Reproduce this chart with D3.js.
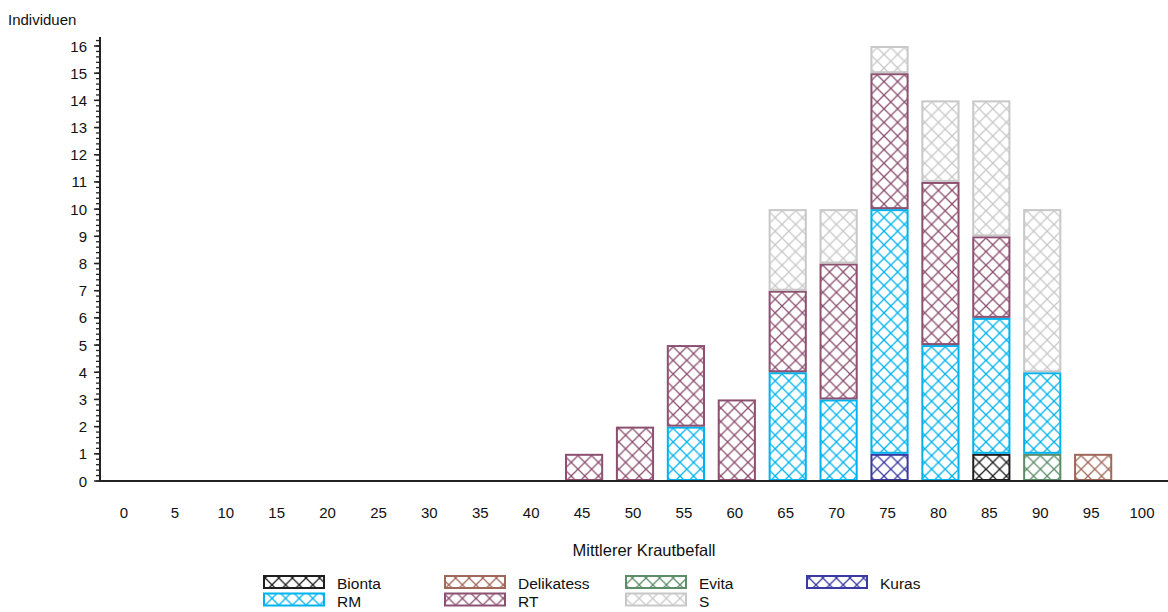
<!DOCTYPE html>
<html><head><meta charset="utf-8">
<script src="https://cdn.jsdelivr.net/npm/d3@7"></script>
<style>body{margin:0;background:#fff}svg{display:block;font-family:"Liberation Sans",Arial,sans-serif}</style>
</head><body>
<svg id="c" width="1168" height="612"></svg>
<script>
const categories = [0,5,10,15,20,25,30,35,40,45,50,55,60,65,70,75,80,85,90,95,100];
const seriesNames = ["Bionta","Delikatess","Evita","Kuras","RM","RT","S"];
const seriesColors = ["#1e1e1e","#a0685a","#5c8c68","#3a3aa2","#00b2ee","#8c5070","#c8c8c8"];
const Bionta     = [0,0,0,0,0,0,0,0,0,0,0,0,0,0,0,0,0,1,0,0,0];
const Delikatess = [0,0,0,0,0,0,0,0,0,0,0,0,0,0,0,0,0,0,0,1,0];
const Evita      = [0,0,0,0,0,0,0,0,0,0,0,0,0,0,0,0,0,0,1,0,0];
const Kuras      = [0,0,0,0,0,0,0,0,0,0,0,0,0,0,0,1,0,0,0,0,0];
const RM         = [0,0,0,0,0,0,0,0,0,0,0,2,0,4,3,9,5,5,3,0,0];
const RT         = [0,0,0,0,0,0,0,0,0,1,2,3,3,3,5,5,6,3,0,0,0];
const S          = [0,0,0,0,0,0,0,0,0,0,0,0,0,3,2,1,3,5,6,0,0];
const yTicks = [0,1,2,3,4,5,6,7,8,9,10,11,12,13,14,15,16];
const seriesValues = [Bionta,Delikatess,Evita,Kuras,RM,RT,S];

const svg = d3.select("#c");
const x = d3.scaleBand().domain(categories).range([100.5,1169.5]).paddingInner(0.25).paddingOuter(0.125);
const y = d3.scaleLinear().domain([0,16]).range([481,46]);

// patterns
const defs = svg.append("defs");
const P = 13.6;
seriesNames.forEach((n,i)=>{
  const p = defs.append("pattern").attr("id","p"+i).attr("patternUnits","userSpaceOnUse")
    .attr("width",P).attr("height",P).attr("x",0).attr("y",0);
  p.append("path").attr("d",`M0,0L${P},${P}M${P},0L0,${P}`)
    .attr("stroke",seriesColors[i]).attr("stroke-width",1.3).attr("fill","none");
});

// stack
const table = categories.map((c,j)=>{const o={cat:c}; seriesNames.forEach((n,i)=>o[n]=seriesValues[i][j]); return o;});
const stacked = d3.stack().keys(seriesNames)(table);
stacked.forEach((layer,i)=>{
  svg.append("g").selectAll("rect").data(layer.filter(d=>d[1]-d[0]>0)).join("rect")
    .attr("x",d=>x(d.data.cat)+1).attr("width",x.bandwidth()-2)
    .attr("y",d=>y(d[1])+1).attr("height",d=>y(d[0])-y(d[1])-2)
    .attr("fill","url(#p"+i+")").attr("stroke",seriesColors[i]).attr("stroke-width",2);
});

// y axis
const ya = svg.append("g");
ya.append("line").attr("x1",100).attr("x2",100).attr("y1",y(16.33)).attr("y2",y(0)).attr("stroke","#222").attr("stroke-width",2);
const minor = d3.range(0,81).map(k=>k/5).concat([16.2]);
ya.selectAll("line.mn").data(minor).join("line").attr("class","mn")
  .attr("x1",96).attr("x2",100).attr("y1",d=>y(d)).attr("y2",d=>y(d)).attr("stroke","#222").attr("stroke-width",1.3);
ya.selectAll("line.mj").data(yTicks).join("line").attr("class","mj")
  .attr("x1",94).attr("x2",100).attr("y1",d=>y(d)).attr("y2",d=>y(d)).attr("stroke","#222").attr("stroke-width",1.5);
ya.selectAll("text").data(yTicks).join("text").attr("x",87).attr("y",d=>y(d)+5.5)
  .attr("text-anchor","end").attr("font-size",15).attr("fill","#111").text(d=>d);

// x axis
svg.append("line").attr("x1",99).attr("x2",1168).attr("y1",y(0)).attr("y2",y(0)).attr("stroke","#222").attr("stroke-width",2);
svg.append("g").selectAll("text").data(categories).join("text")
  .attr("x",d=>x(d)+x.bandwidth()/2-2).attr("y",518).attr("text-anchor","middle").attr("font-size",15).attr("fill","#111").text(d=>d);

svg.append("text").attr("x",8).attr("y",25).attr("font-size",15).attr("fill","#111").text("Individuen");
svg.append("text").attr("x",644).attr("y",556).attr("text-anchor","middle").attr("font-size",16.5).attr("fill","#111").text("Mittlerer Krautbefall");

// legend
const lg = svg.append("g");
seriesNames.forEach((n,i)=>{
  const col = i<4 ? i : i-4, row = i<4 ? 0 : 1;
  const lx = 264 + col*181, ly = 576 + row*17.5;
  lg.append("rect").attr("x",lx).attr("y",ly).attr("width",60).attr("height",12)
    .attr("fill","url(#p"+i+")").attr("stroke",seriesColors[i]).attr("stroke-width",2);
  lg.append("text").attr("x",lx+73).attr("y",ly+13).attr("font-size",15.5).attr("fill","#111").text(n);
});
</script>
</body></html>
